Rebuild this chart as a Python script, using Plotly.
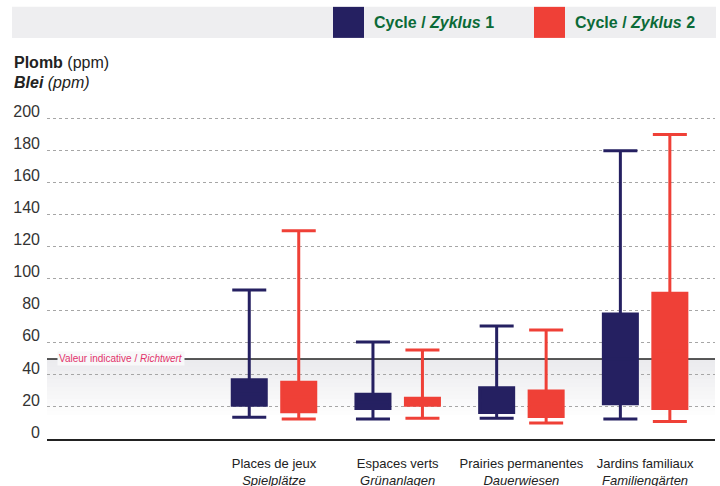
import plotly.graph_objects as go

# ---- data ----
categories_fr = ["Places de jeux", "Espaces verts", "Prairies permanentes", "Jardins familiaux"]
categories_de = ["Spielplätze", "Grünanlagen", "Dauerwiesen", "Familiengärten"]

c1_upper = [93, 60.5, 70.5, 180]
c1_q3 = [37, 28, 32, 78]
c1_median = [28, 23, 24, 50]
c1_q1 = [21, 19, 16.5, 22]
c1_lower = [13.5, 12.5, 13, 12.5]

c2_upper = [130, 55.5, 68, 190]
c2_q3 = [35.5, 25.5, 30, 91]
c2_median = [26, 23, 22, 55]
c2_q1 = [17, 21, 14, 19]
c2_lower = [12.5, 13, 10, 11]

y_ticks = [0, 20, 40, 60, 80, 100, 120, 140, 160, 180, 200]
guide_value = 50

NAVY = "#252061"
RED = "#ef4037"
GREEN = "#0b6a37"
FONT = "Liberation Sans, Arial, Helvetica, sans-serif"

pos = list(range(1, len(categories_fr) + 1))
offset = 0.2
bw = 0.275

fig = go.Figure()

for name, color, sign, q1, med, q3, lo, up in [
    ("Cycle / Zyklus 1", NAVY, -1, c1_q1, c1_median, c1_q3, c1_lower, c1_upper),
    ("Cycle / Zyklus 2", RED, 1, c2_q1, c2_median, c2_q3, c2_lower, c2_upper),
]:
    fig.add_trace(go.Box(
        name=name,
        x=[p + sign * offset for p in pos],
        q1=q1, median=med, q3=q3, lowerfence=lo, upperfence=up,
        width=bw, whiskerwidth=1,
        line=dict(color=color, width=3),
        fillcolor=color,
        boxpoints=False,
        showlegend=False,
        hoverinfo="skip",
    ))

shapes = []
# gradient band below guide value (decorative)
n = 14
top_c = (235, 235, 238)
for i in range(n):
    f = (i + 1) / n
    y0 = guide_value * 0.3 + (guide_value * 0.7) * i / n
    y1 = guide_value * 0.3 + (guide_value * 0.7) * (i + 1) / n
    col = tuple(int(255 + (tc - 255) * f) for tc in top_c)
    shapes.append(dict(type="rect", xref="paper", yref="y", x0=0, x1=1, y0=y0, y1=y1,
                       fillcolor="rgb(%d,%d,%d)" % col, line=dict(width=0), layer="below"))
shapes.append(dict(type="line", xref="paper", yref="y", x0=0, x1=1, y0=guide_value, y1=guide_value,
                   line=dict(color="#222222", width=1.5), layer="below"))

# layout geometry (pixels)
L, T, W, H = 47, 117, 668, 321.6
YMAX = 201

def px(x): return (x - L) / W
def py(y): return (T + H - y) / H

shapes.append(dict(type="rect", xref="paper", yref="paper", x0=px(12), x1=px(716), y0=py(38), y1=py(7),
                   fillcolor="#eeeef0", line=dict(width=0), layer="below"))
shapes.append(dict(type="rect", xref="paper", yref="paper", x0=px(333), x1=px(364), y0=py(38), y1=py(7),
                   fillcolor=NAVY, line=dict(width=0)))
shapes.append(dict(type="rect", xref="paper", yref="paper", x0=px(534), x1=px(565), y0=py(38), y1=py(7),
                   fillcolor=RED, line=dict(width=0)))

annotations = [
    dict(text="<b>Cycle / <i>Zyklus</i> 1</b>", xref="paper", yref="paper", x=px(372), y=py(23),
         xanchor="left", yanchor="middle", showarrow=False, font=dict(size=16, color=GREEN, family=FONT)),
    dict(text="<b>Cycle / <i>Zyklus</i> 2</b>", xref="paper", yref="paper", x=px(573), y=py(23),
         xanchor="left", yanchor="middle", showarrow=False, font=dict(size=16, color=GREEN, family=FONT)),
    dict(text="<b>Plomb</b> (ppm)", xref="paper", yref="paper", x=px(12), y=py(63),
         xanchor="left", yanchor="middle", showarrow=False, font=dict(size=16, color="#222222", family=FONT)),
    dict(text="<b><i>Blei</i></b><i> (ppm)</i>", xref="paper", yref="paper", x=px(12), y=py(83),
         xanchor="left", yanchor="middle", showarrow=False, font=dict(size=16, color="#222222", family=FONT)),
    dict(text="Valeur indicative / <i>Richtwert</i>", xref="paper", yref="y", x=px(57), y=guide_value,
         xanchor="left", yanchor="middle", showarrow=False, bgcolor="#f8f8f9", borderpad=1,
         font=dict(size=10, color="#e2336b", family=FONT)),
]

fig.update_layout(
    width=720, height=486,
    margin=dict(l=L, r=720 - L - W, t=T, b=486 - T - H, autoexpand=False),
    paper_bgcolor="white", plot_bgcolor="rgba(0,0,0,0)",
    boxmode="overlay",
    shapes=shapes, annotations=annotations,
    font=dict(family=FONT, color="#333333"),
    showlegend=False,
)
fig.update_xaxes(
    range=[-0.835, 4.565], tickmode="array", tickvals=pos,
    ticktext=["%s<br><i>%s</i>" % (a, b) for a, b in zip(categories_fr, categories_de)],
    showgrid=False, zeroline=False, showline=True, linecolor="#222222", linewidth=1.5,
    ticks="", ticklabelstandoff=12, automargin=False,
    tickfont=dict(size=13, color="#222222", family=FONT),
)
fig.update_yaxes(
    range=[0, YMAX], tickmode="array", tickvals=y_ticks,
    showgrid=True, gridcolor="#a6a6a6", griddash="dot", gridwidth=1,
    zeroline=False, showline=False, ticks="", ticklabelstandoff=6, ticklabelshift=-7,
    automargin=False, tickfont=dict(size=16, color="#333333", family=FONT),
)

fig.write_html("out.html", config={"displayModeBar": False},
               post_script="document.body.style.margin='0';document.body.style.overflow='hidden';")
